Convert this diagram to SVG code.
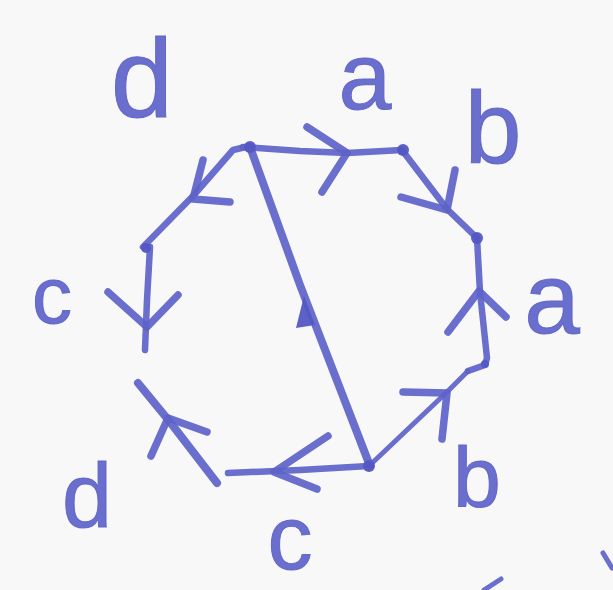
<svg xmlns="http://www.w3.org/2000/svg" width="613" height="590" viewBox="0 0 613 590">
<style>
.ink{fill:none;stroke:#5d62c8;stroke-linecap:round;stroke-linejoin:round;stroke-opacity:0.92}
.e{stroke-width:6.5}
.thin{stroke-width:5}
.thick{stroke-width:8}
.chev{stroke-width:7.5}
.dot{fill:#5357c4;fill-opacity:0.95}
.lbl{font-family:"Liberation Sans","DejaVu Sans",sans-serif;fill:#5d62c8;stroke:#5d62c8;stroke-width:1;text-anchor:middle;fill-opacity:0.92;stroke-opacity:0.92}
</style>
<rect x="0" y="0" width="613" height="590" fill="#f8f8f9"/>
<g id="connectors">
  <!-- top edge a -->
  <path class="ink e" d="M243,147 L300,151 L347,153 L402,150"/>
  <polyline class="ink chev" points="307,127 347,153 322,192"/>
  <!-- upper right edge b -->
  <path class="ink e" d="M402,150 L447,209 L477,238"/>
  <polyline class="ink chev" points="455,170 447,210 401,197"/>
  <!-- right edge a -->
  <path class="ink e" d="M477,238 L480,292 L487,358 L485,365 L468,371"/>
  <polyline class="ink chev" points="448,332 479,291 506,317"/>
  <!-- lower right edge b -->
  <path class="ink thin" d="M468,371 L447,392 L369,466"/>
  <polyline class="ink chev" points="403,392 447,393 442,439"/>
  <!-- bottom edge c -->
  <path class="ink e" d="M369,466 L300,470 L228,473"/>
  <polyline class="ink chev" points="328,436 274,472 317,489"/>
  <!-- lower left edge d -->
  <path class="ink thick" d="M138,383 L170,422 L217,483"/>
  <polyline class="ink chev" points="151,456 168,418 207,432"/>
  <!-- left edge c -->
  <path class="ink e" d="M150,247 L147,300 L145,350"/>
  <polyline class="ink chev" points="108,292 147,327 178,295"/>
  <!-- upper left edge d -->
  <path class="ink e" d="M143,247 L193,196 L233,150 L250,146"/>
  <polyline class="ink chev" points="203,160 193,199 230,202"/>
  <!-- diagonal -->
  <path class="ink thick" d="M250,147 L300,285 L370,466"/>
  <path class="dot" d="M304,296 L315,325 L296,328 Z"/>
  <!-- stray marks -->
  <path class="ink thin" d="M603,553 L612,568"/>
  <path class="ink thin" d="M484,590 L501,579"/>
</g>
<g id="v1"><circle class="dot" cx="250" cy="147" r="6"/></g>
<g id="v2"><circle class="dot" cx="403" cy="150" r="6"/></g>
<g id="v3"><circle class="dot" cx="477" cy="238" r="6"/></g>
<g id="v4"><circle class="dot" cx="485" cy="364" r="4"/></g>
<g id="v5"><circle class="dot" cx="369" cy="466" r="6"/></g>
<g id="v8"><circle class="dot" cx="146" cy="248" r="5"/></g>
<g id="labels">
  <text class="lbl" x="142" y="117" font-size="112">d</text>
  <text class="lbl" x="365" y="109" font-size="95">a</text>
  <text class="lbl" x="493" y="163" font-size="102">b</text>
  <text class="lbl" x="52" y="323" font-size="80">c</text>
  <text class="lbl" x="552" y="333" font-size="100">a</text>
  <text class="lbl" x="477" y="507" font-size="86">b</text>
  <text class="lbl" x="290" y="569" font-size="90">c</text>
  <text class="lbl" x="87" y="527" font-size="90">d</text>
</g>
</svg>
